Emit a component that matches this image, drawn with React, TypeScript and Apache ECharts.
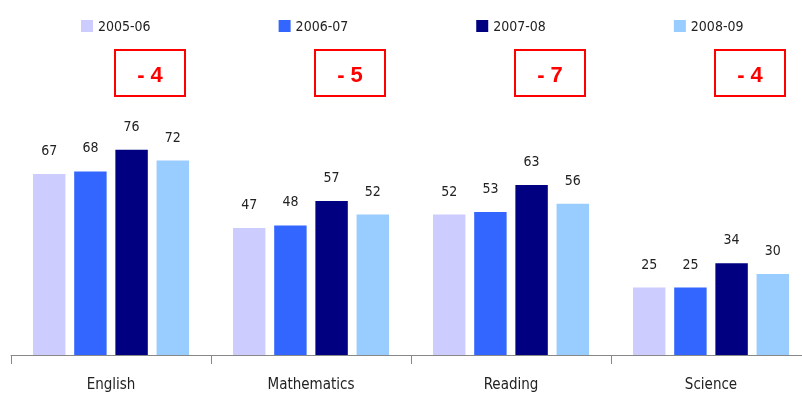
import React, { useEffect, useRef } from "react";
import * as echarts from "echarts";

const subjects = ["English", "Mathematics", "Reading", "Science"];
const years = ["2005-06", "2006-07", "2007-08", "2008-09"];
const colors = ["#CCCCFF", "#3366FF", "#000080", "#99CCFF"];
const v2005 = [67, 47, 52, 25];
const v2006 = [68, 48, 53, 25];
const v2007 = [76, 57, 63, 34];
const v2008 = [72, 52, 56, 30];
const seriesValues = [v2005, v2006, v2007, v2008];

const FONT = "'Liberation Sans Narrow', 'DejaVu Sans Condensed', Arial, sans-serif";

export default function App() {
  const ref = useRef<HTMLDivElement>(null);

  useEffect(() => {
    if (!ref.current) return;
    const chart = echarts.init(ref.current, null, { renderer: "svg" });

    chart.setOption({
      animation: false,
      textStyle: { fontFamily: FONT },
      legend: {
        left: 81,
        top: 19,
        padding: 0,
        itemWidth: 12,
        itemHeight: 12,
        itemGap: 128,
        icon: "rect",
        textStyle: { fontFamily: FONT, fontSize: 14, color: "#222" },
        data: years,
      },
      grid: { left: 11, width: 800, top: 85, bottom: 38, outerBoundsMode: "none" },
      xAxis: {
        type: "category",
        data: subjects,
        axisLine: { lineStyle: { color: "#888", width: 1 } },
        axisTick: { show: true, length: 9, lineStyle: { color: "#888" } },
        axisLabel: { color: "#222", fontSize: 15, fontFamily: FONT, margin: 21 },
      },
      yAxis: { type: "value", min: 0, max: 100, show: false, splitLine: { show: false } },
      series: years.map((y, i) => ({
        name: y,
        type: "bar",
        data: seriesValues[i],
        barGap: "27%",
        barCategoryGap: "22%",
        itemStyle: { color: colors[i] },
        label: {
          show: true,
          position: "top",
          distance: 17,
          color: "#222",
          fontSize: 14,
          fontFamily: FONT,
        },
      })),
    });

    // Change boxes: latest year minus previous year, centred over the last two bars
    const graphics: any[] = [];
    subjects.forEach((s, i) => {
      const p = chart.convertToPixel({ xAxisIndex: 0, yAxisIndex: 0 }, [s, 0]) as number[];
      const cx = p[0] + 39;
      const diff = v2008[i] - v2007[i];
      const txt = diff < 0 ? `- ${Math.abs(diff)}` : `+ ${diff}`;
      graphics.push({
        type: "rect",
        shape: { x: cx - 35, y: 50, width: 70, height: 46 },
        style: { fill: "#fff", stroke: "#FF0000", lineWidth: 2 },
      });
      graphics.push({
        type: "text",
        x: cx,
        y: 74,
        style: {
          text: txt,
          fill: "#FF0000",
          font: "bold 22px 'Liberation Sans', Arial, sans-serif",
          align: "center",
          verticalAlign: "middle",
        },
      });
    });
    chart.setOption({ graphic: graphics });

    return () => chart.dispose();
  }, []);

  return (
    <div
      ref={ref}
      style={{ position: "fixed", left: 0, top: 0, width: 802, height: 393 }}
    />
  );
}
